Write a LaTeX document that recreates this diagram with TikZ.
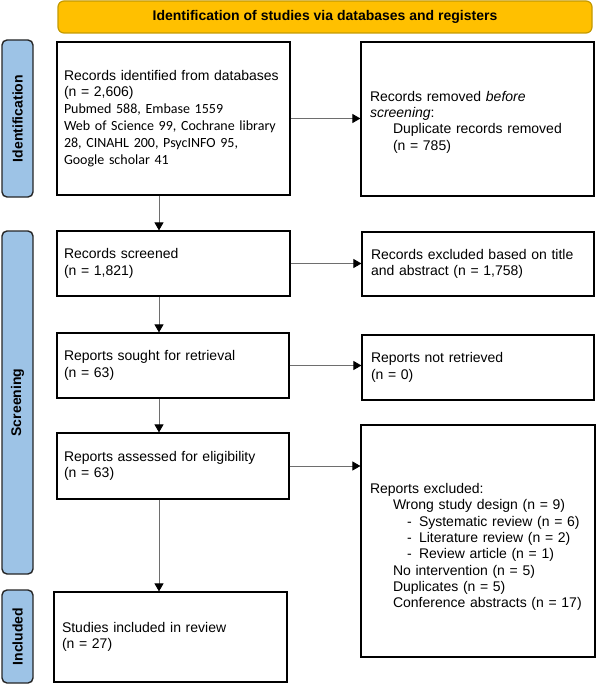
\documentclass[tikz,border=0pt]{standalone}
\usepackage{fontspec}
\setmainfont{Liberation Sans}
\newfontfamily\carlito{Carlito}
\usetikzlibrary{arrows.meta}
\definecolor{bannerfill}{HTML}{FFC000}
\definecolor{bannerdraw}{HTML}{C49A00}
\definecolor{sidefill}{HTML}{9DC3E6}
\definecolor{sidedraw}{HTML}{262626}
\definecolor{arrowgray}{HTML}{6E6E6E}
\begin{document}
\begin{tikzpicture}[x=1pt,y=-1pt,
  box/.style={draw=black, line width=1.2pt, inner xsep=7pt, inner ysep=0pt,
    align=left, font=\fontsize{14}{16.3}\selectfont},
  rbox/.style={box, inner xsep=9pt},
  side/.style={draw=sidedraw, fill=sidefill, line width=1.4pt, rounded corners=5pt,
    rotate=90, minimum height=31pt, inner sep=0pt,
    font=\bfseries\fontsize{14}{16}\selectfont},
  banner/.style={draw=bannerdraw, fill=bannerfill, line width=1.2pt, rounded corners=6pt,
    minimum width=534pt, minimum height=32pt, inner sep=0pt,
    font=\bfseries\fontsize{14}{16}\selectfont},
  arr/.style={draw=arrowgray, line width=0.9pt,
    -{Triangle[length=8pt,width=9pt,color=black]}}
]
\useasboundingbox (0,0) rectangle (597,685);

% banner and side labels
\node[banner] (ban) at (325,17) {Identification of studies via databases and registers};
\node[side, minimum width=157pt] (s1) at (17.5,118.5) {Identification};
\node[side, minimum width=343pt] (s2) at (17.5,402.5) {Screening};
\node[side, minimum width=93pt] (s3) at (17.5,636.5) {Included};

% left column
\node[box, text width=219pt, minimum height=153pt] (A) at (173.5,118.5)
 {Records identified from databases\\(n = 2,606)\\\carlito Pubmed 588, Embase 1559\\[0.7pt]Web of Science 99, Cochrane library\\[0.7pt]28, CINAHL 200, PsycINFO 95,\\[0.7pt]Google scholar 41\par\vskip18pt};
\node[box, text width=219pt, minimum height=65pt] (C) at (173.5,263.5)
 {Records screened\\(n = 1,821)};
\node[box, text width=218pt, minimum height=65pt] (E) at (173,365.5)
 {Reports sought for retrieval\\(n = 63)};
\node[box, text width=218pt, minimum height=66pt] (G) at (173,466)
 {Reports assessed for eligibility\\(n = 63)};
\node[box, inner xsep=8pt, text width=217pt, minimum height=90pt] (I) at (170.5,637)
 {Studies included in review\\(n = 27)};

% right column
\node[rbox, text width=215pt, minimum height=154pt] (B) at (477.5,119)
 {\rule{0pt}{16pt}Records removed \textit{before}\\\textit{screening}:\\\hspace*{23pt}Duplicate records removed\\\hspace*{23pt}(n = 785)};
\node[rbox, text width=214pt, minimum height=64pt] (D) at (478,264)
 {Records excluded based on title\\and abstract (n = 1,758)};
\node[rbox, text width=214pt, minimum height=65pt] (F) at (478,367.5)
 {Reports not retrieved\\(n = 0)};
\node[rbox, text width=216pt, minimum height=232pt] (H) at (478,541)
 {\rule{0pt}{22pt}Reports excluded:\\
  \hspace*{23pt}Wrong study design (n = 9)\\
  \hspace*{37pt}\makebox[12pt][l]{-}Systematic review (n = 6)\\
  \hspace*{37pt}\makebox[12pt][l]{-}Literature review (n = 2)\\
  \hspace*{37pt}\makebox[12pt][l]{-}Review article (n = 1)\\
  \hspace*{23pt}No intervention (n = 5)\\
  \hspace*{23pt}Duplicates (n = 5)\\
  \hspace*{23pt}Conference abstracts (n = 17)};

% connectors
\coordinate (ax) at (159,0);
\draw[arr] (A.south -| ax) -- (C.north -| ax);
\draw[arr] (C.south -| ax) -- (E.north -| ax);
\draw[arr] (E.south -| ax) -- (G.north -| ax);
\draw[arr] (G.south -| ax) -- (I.north -| ax);
\draw[arr] (A.east) -- (A.east -| B.west);
\draw[arr] (C.east) -- (C.east -| D.west);
\draw[arr] (E.east) -- (E.east -| F.west);
\draw[arr] (G.east) -- (G.east -| H.west);
\end{tikzpicture}
\end{document}
